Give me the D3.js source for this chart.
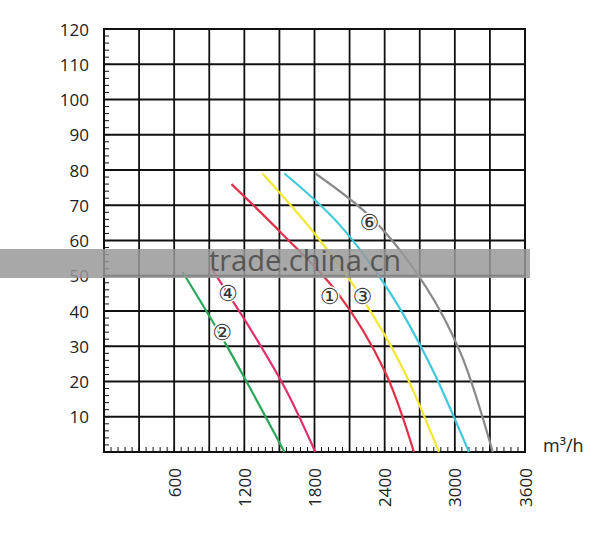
<!DOCTYPE html><html><head><script src="https://cdn.jsdelivr.net/npm/d3@7"></script>
<style>body{margin:0;background:#fff}</style></head><body><svg id="c" width="608" height="536"></svg>
<script>
const yTicks=[10,20,30,40,50,60,70,80,90,100,110,120];
const xTicks=[600,1200,1800,2400,3000,3600];
const c1=[[1090,76],[1520,62],[2000,45],[2400,23],[2650,0]];
const c2=[[673,51],[1000,33],[1300,15],[1543,0]];
const c3=[[1355,79],[1800,62],[2200,44],[2550,24],[2864,0]];
const c4=[[920,52],[1250,35],[1550,18],[1807,0]];
const c5=[[1543,79],[2000,65],[2450,45],[2800,24],[3120,0]];
const c6=[[1807,79],[2300,66],[2750,47],[3050,28],[3324,0]];
const series=[{d:c2,c:"#2aa65a"},{d:c4,c:"#e0306a"},{d:c1,c:"#e0304a"},{d:c3,c:"#f2e830"},{d:c5,c:"#40c8dc"},{d:c6,c:"#8a8a8a"}];
const labels=[{t:"①",x:1930,y:44},{t:"②",x:1010,y:34},{t:"③",x:2210,y:44},{t:"④",x:1060,y:45},{t:"⑥",x:2270,y:65}];
const svg=d3.select("#c");
const x=d3.scaleLinear().domain([0,3600]).range([104,525]);
const y=d3.scaleLinear().domain([0,120]).range([452,29]);
const g=svg.append("g");
d3.range(300,3600,300).forEach(v=>g.append("line").attr("x1",x(v)).attr("x2",x(v)).attr("y1",y(0)).attr("y2",y(120)).attr("stroke","#111").attr("stroke-width",1.8));
d3.range(10,121,10).forEach(v=>g.append("line").attr("x1",x(0)).attr("x2",x(3600)).attr("y1",y(v)).attr("y2",y(v)).attr("stroke","#111").attr("stroke-width",1.8));
d3.range(0,3600,60).forEach(v=>g.append("line").attr("x1",x(v)).attr("x2",x(v)).attr("y1",y(0)).attr("y2",y(0)-5).attr("stroke","#111"));
d3.range(0,120,2).forEach(v=>g.append("line").attr("x1",x(0)).attr("x2",x(0)+5).attr("y1",y(v)).attr("y2",y(v)).attr("stroke","#111"));
g.append("rect").attr("x",x(0)).attr("y",y(120)).attr("width",x(3600)-x(0)).attr("height",y(0)-y(120)).attr("fill","none").attr("stroke","#111").attr("stroke-width",2);
const line=d3.line().x(d=>x(d[0])).y(d=>y(d[1])).curve(d3.curveCatmullRom.alpha(0.5));
series.forEach(s=>svg.append("path").attr("d",line(s.d)).attr("fill","none").attr("stroke",s.c).attr("stroke-width",2.2));
labels.forEach(l=>svg.append("text").attr("x",x(l.x)).attr("y",y(l.y)).attr("text-anchor","middle").attr("dominant-baseline","central").attr("font-family","DejaVu Sans").attr("font-size",22).attr("fill","#333").attr("stroke","#fff").attr("stroke-width",3).attr("paint-order","stroke").text(l.t));
yTicks.forEach(v=>svg.append("text").attr("x",89).attr("y",y(v)).attr("text-anchor","end").attr("dominant-baseline","central").attr("font-family","Open Sans").attr("font-size",17).attr("fill","#222").text(v));
xTicks.forEach(v=>svg.append("text").attr("transform",`translate(${x(v)},468) rotate(-90)`).attr("text-anchor","end").attr("dominant-baseline","central").attr("font-family","Open Sans").attr("font-size",17).attr("fill","#222").text(v));
svg.append("text").attr("x",543).attr("y",452).attr("font-family","Open Sans").attr("font-size",18).attr("fill","#222").text("m³/h");
svg.append("rect").attr("x",0).attr("y",249).attr("width",530).attr("height",29).attr("fill","#999").attr("opacity",0.85);
svg.append("text").attr("x",305).attr("y",271).attr("text-anchor","middle").attr("font-family","Open Sans").attr("font-size",29).attr("fill","#4a4a4a").attr("opacity",0.85).text("trade.china.cn");
</script></body></html>
